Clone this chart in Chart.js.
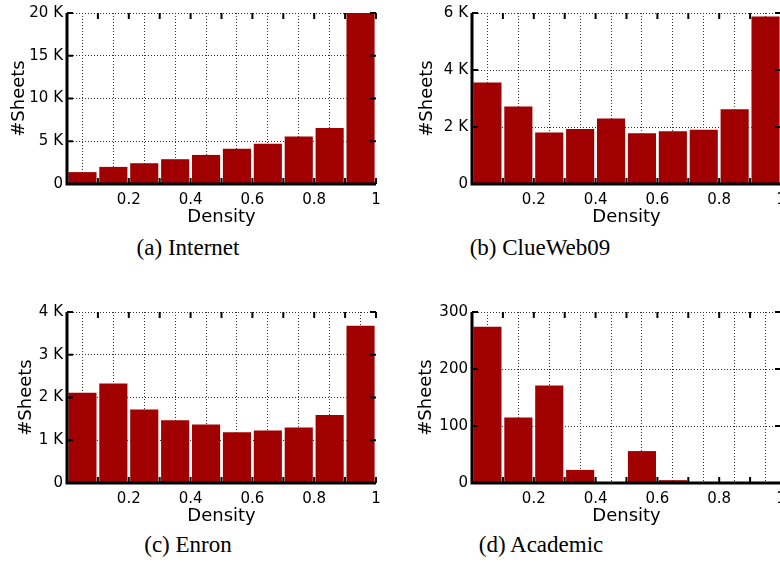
<!DOCTYPE html>
<html lang="en">
<head>
<meta charset="UTF-8">
<title>Sheet density histograms</title>
<script src="https://cdn.jsdelivr.net/npm/chart.js"></script>
<style>
    html, body { margin: 0; padding: 0; background: #fff; width: 780px; height: 569px; overflow: hidden; }
    .panel { position: absolute; }
    .caption {
        position: absolute;
        font-family: "Liberation Serif", serif;
        font-size: 23px;
        line-height: 1;
        color: #000;
        white-space: nowrap;
        transform: translate(-50%, -50%);
    }
</style>
</head>
<body>
    <canvas id="chartA" class="panel" width="390" height="230" style="left:0;top:0"></canvas>
    <canvas id="chartB" class="panel" width="390" height="230" style="left:405px;top:0"></canvas>
    <canvas id="chartC" class="panel" width="390" height="230" style="left:0;top:299px"></canvas>
    <canvas id="chartD" class="panel" width="390" height="230" style="left:405px;top:299px"></canvas>

    <div class="caption" style="left:188px;top:247px">(a) Internet</div>
    <div class="caption" style="left:540px;top:247px">(b) ClueWeb09</div>
    <div class="caption" style="left:188px;top:544px">(c) Enron</div>
    <div class="caption" style="left:541px;top:544px">(d) Academic</div>

<script>
    // histogram bins (density 0..1 in steps of 0.1)
    const binCenters = [0.05, 0.15, 0.25, 0.35, 0.45, 0.55, 0.65, 0.75, 0.85, 0.95];
    const xTickLabels = ['', '', '0.2', '', '0.4', '', '0.6', '', '0.8', '', '1'];

    // #sheets per bin
    const internet = [1390, 2000, 2430, 2900, 3400, 4130, 4710, 5560, 6560, 20000];
    const clueweb = [3560, 2720, 1810, 1930, 2300, 1780, 1850, 1900, 2620, 5880];
    const enron = [2110, 2330, 1720, 1470, 1370, 1190, 1230, 1300, 1590, 3680];
    const academic = [274, 115, 171, 23, 0, 56, 5, 0, 0, 0];

    // y tick labels
    const internetTicks = ['0', '5 K', '10 K', '15 K', '20 K'];
    const cluewebTicks = ['0', '2 K', '4 K', '6 K'];
    const enronTicks = ['0', '1 K', '2 K', '3 K', '4 K'];
    const academicTicks = ['0', '100', '200', '300'];

    const barColor = '#a00000';

    Chart.defaults.font.family = '"DejaVu Sans", sans-serif';
    Chart.defaults.color = '#000';

    // gnuplot style frame: thick left/bottom axes, inward tics on all four sides
    const frameTicks = {
        id: 'frameTicks',
        afterDatasetsDraw(chart) {
            const { ctx, chartArea: a, scales: { x, y } } = chart;
            ctx.save();
            ctx.strokeStyle = '#000';
            ctx.lineWidth = 2;
            ctx.beginPath();
            x.ticks.forEach(t => {
                const px = x.getPixelForValue(t.value);
                ctx.moveTo(px, a.bottom); ctx.lineTo(px, a.bottom - 6);
                ctx.moveTo(px, a.top); ctx.lineTo(px, a.top + 6);
            });
            y.ticks.forEach(t => {
                const py = y.getPixelForValue(t.value);
                ctx.moveTo(a.left, py); ctx.lineTo(a.left + 6, py);
                ctx.moveTo(a.right, py); ctx.lineTo(a.right - 6, py);
            });
            ctx.stroke();
            ctx.lineWidth = 3;
            ctx.beginPath();
            ctx.moveTo(a.left, a.top);
            ctx.lineTo(a.left, a.bottom);
            ctx.lineTo(a.right, a.bottom);
            ctx.stroke();
            ctx.restore();
        }
    };

    function makeChart(id, values, yMax, yStep, yLabels, titlePad) {
        return new Chart(document.getElementById(id), {
            type: 'bar',
            data: {
                datasets: [{
                    data: binCenters.map((c, i) => ({ x: c, y: values[i] })),
                    backgroundColor: barColor,
                    barPercentage: 0.91,
                    categoryPercentage: 1
                }]
            },
            options: {
                responsive: false,
                animation: false,
                layout: { padding: { top: 12, right: 14, left: 0, bottom: 0 } },
                plugins: { legend: { display: false }, tooltip: { enabled: false } },
                scales: {
                    x: {
                        type: 'linear',
                        min: 0,
                        max: 1,
                        offset: false,
                        afterFit: s => { s.height = 46; },
                        grid: { color: '#333', lineWidth: 1, drawTicks: false },
                        border: { display: false, dash: [1, 2] },
                        ticks: {
                            stepSize: 0.1,
                            autoSkip: false,
                            maxRotation: 0,
                            padding: 7,
                            font: { size: 15 },
                            callback: (v, i) => xTickLabels[i] ?? ''
                        },
                        title: {
                            display: true,
                            text: 'Density',
                            font: { size: 18 },
                            padding: { top: 0, bottom: 2 }
                        }
                    },
                    y: {
                        min: 0,
                        max: yMax,
                        afterFit: s => { s.width = 67; },
                        grid: { color: '#333', lineWidth: 1, drawTicks: false },
                        border: { display: false, dash: [1, 2] },
                        ticks: {
                            stepSize: yStep,
                            padding: 4,
                            font: { size: 15 },
                            callback: (v, i) => yLabels[i] ?? ''
                        },
                        title: {
                            display: true,
                            text: '#Sheets',
                            font: { size: 18 },
                            padding: { top: titlePad, bottom: 0 }
                        }
                    }
                }
            },
            plugins: [frameTicks]
        });
    }

    makeChart('chartA', internet, 20000, 5000, internetTicks, 9);
    makeChart('chartB', clueweb, 6000, 2000, cluewebTicks, 12);
    makeChart('chartC', enron, 4000, 1000, enronTicks, 16);
    makeChart('chartD', academic, 300, 100, academicTicks, 11);
</script>
</body>
</html>
